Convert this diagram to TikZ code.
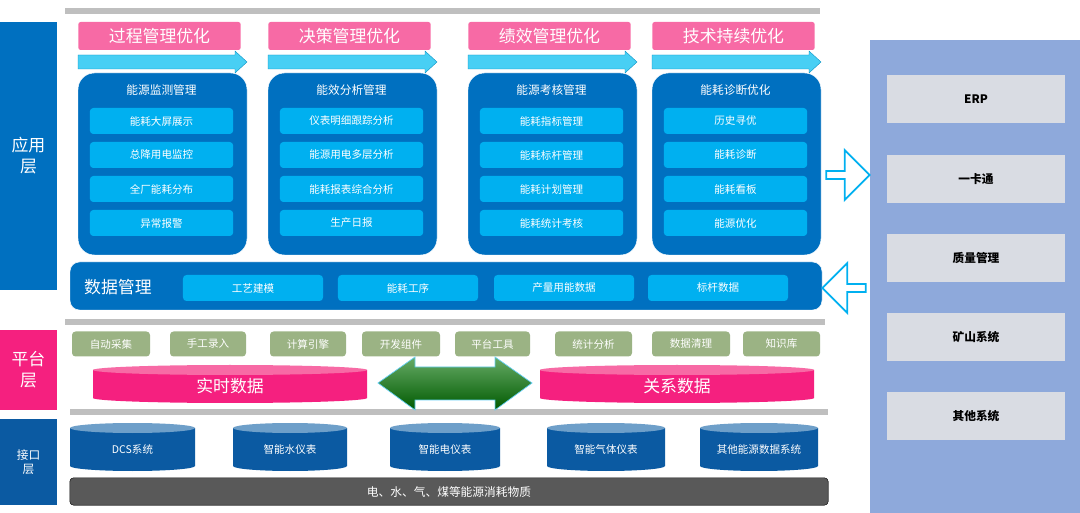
\documentclass[tikz,border=0pt]{standalone}
\usepackage{fontspec}
\setmainfont{Noto Sans CJK SC}
\usetikzlibrary{positioning, shapes.arrows, calc}
\definecolor{appblue}{HTML}{0070C0}
\definecolor{itemblue}{HTML}{00B0F0}
\definecolor{hdrpink}{HTML}{F76AA5}
\definecolor{layerpink}{HTML}{F5207F}
\definecolor{ifblue}{HTML}{0B5AA2}
\definecolor{cylblue}{HTML}{0B5AA2}
\definecolor{cyltop}{HTML}{6E9FC9}
\definecolor{toolgreen}{HTML}{9BB384}
\definecolor{sidepanel}{HTML}{8EA9DB}
\definecolor{sideitem}{HTML}{D9DCE3}
\definecolor{arrowcyan}{HTML}{48CFF4}

% one pixel of the layout = 0.03cm
\newcommand{\pbox}[5]{\path[#1] (#2,#3) rectangle (#4,#5);}
\newcommand{\cylinder}[7]{% style, top colour, x1, x2, y1, y2, text
  \fill[#1] (#3,#5) -- (#3,#6) arc[start angle=180,end angle=360,x radius={(#4-#3)*0.015cm},y radius=0.15cm] -- (#4,#5) -- cycle;
  \fill[#2] ({(#3+#4)/2},#5) ellipse[x radius={(#4-#3)*0.015cm},y radius=0.15cm];
  \node[white, font=\small] at ({(#3+#4)/2},{(#5+#6)/2+2}) {#7};}

\begin{document}
\begin{tikzpicture}[x=0.03cm, y=-0.03cm,
  layer/.style={fill=#1, text=white, font=\Large, align=center},
  header/.style={fill=hdrpink, rounded corners=2pt, text=white, font=\Large, inner sep=0pt},
  module/.style={fill=appblue, draw=white, rounded corners=14pt},
  item/.style={fill=itemblue, rounded corners=3pt, text=white, font=\small, inner sep=0pt},
  tool/.style={fill=toolgreen, rounded corners=3pt, text=white, font=\small, inner sep=0pt},
  sysbox/.style={fill=sideitem, font=\bfseries, inner sep=0pt},
  graybar/.style={fill=black!25},
  hollow/.style={single arrow, draw=itemblue, fill=white, line width=1.5pt, minimum height=1.3cm, minimum width=1.5cm, single arrow head extend=4pt, inner sep=0pt}
]
\useasboundingbox (0,0) rectangle (1080,513);

% layer bars on the left
\node[layer=appblue, minimum width=1.71cm, minimum height=8.04cm] (app) at (28.5,156) {应用\\层};
\node[layer=layerpink, minimum width=1.71cm, minimum height=2.4cm] (plat) at (28.5,370) {平台\\层};
\node[layer=ifblue, minimum width=1.71cm, minimum height=2.55cm, font=\normalsize] (ifl) at (28.5,462) {接口\\层};

% separators
\pbox{graybar}{65}{8}{820}{14}
\pbox{graybar}{65}{319}{825}{325}
\pbox{graybar}{70}{409}{828}{415}

% application modules
\foreach \x/\w/\hd/\ttl/\ia/\ib/\ic/\id [count=\i] in {
  78/169/过程管理优化/能源监测管理/能耗大屏展示/总降用电监控/全厂能耗分布/异常报警,
  268/169/决策管理优化/能效分析管理/仪表明细跟踪分析/能源用电多层分析/能耗报表综合分析/生产日报,
  468/169/绩效管理优化/能源考核管理/能耗指标管理/能耗标杆管理/能耗计划管理/能耗统计考核,
  652/169/技术持续优化/能耗诊断优化/历史寻优/能耗诊断/能耗看板/能源优化}{
  \node[header, minimum width=\w*0.03cm-0.2cm, minimum height=0.84cm] (hd\i) at (\x+\w/2-3,36) {\hd};
  \fill[arrowcyan, draw=itemblue!80!black, line width=0.3pt] (\x,55) -- (\x+\w-12,55) -- (\x+\w-12,51) -- (\x+\w,62) -- (\x+\w-12,73) -- (\x+\w-12,69) -- (\x,69) -- cycle;
  \draw[module] (\x,73) rectangle (\x+\w,255);
  \node[white, font=\normalsize] (mt\i) at (\x+\w/2-1,90) {\ttl};
  \foreach \t [count=\j] in {\ia,\ib,\ic,\id}
    \node[item, minimum width=4.3cm, minimum height=0.78cm] (it\i\j) at (\x+\w/2-1,87+34*\j) {\t};
}

% data management
\draw[fill=appblue, draw=white, rounded corners=8pt] (70,262) rectangle (822,310);
\node[white, font=\Large, anchor=west] (dm) at (80,287) {数据管理};
\foreach \t/\x [count=\i] in {工艺建模/253, 能耗工序/408, 产量用能数据/564, 标杆数据/718}
  \node[item, minimum width=4.2cm, minimum height=0.78cm] (dm\i) at (\x,288) {\t};

% platform tools
\foreach \t/\a/\b [count=\i] in {自动采集/72/150, 手工录入/170/246, 计算引擎/270/346, 开发组件/362/440,
  平台工具/455/530, 统计分析/555/632, 数据清理/652/730, 知识库/743/820}
  \node[tool, minimum width={(\b-\a)*0.03cm}, minimum height=0.75cm] (tl\i) at ({(\a+\b)/2},344) {\t};

% data stores
\cylinder{layerpink}{hdrpink}{93}{367}{370}{398}{\Large 实时数据}
\cylinder{layerpink}{hdrpink}{540}{814}{370}{398}{\Large 关系数据}
\shade[top color=green!45!black!60, bottom color=green!35!black, draw=itemblue!60, line width=0.6pt]
  (378,383) -- (415,357) -- (415,367) -- (495,367) -- (495,357) -- (532,383) -- (495,410) -- (495,400) -- (415,400) -- (415,410) -- cycle;

% interface devices
\foreach \t/\a/\b in {DCS系统/70/195, 智能水仪表/233/347, 智能电仪表/390/500, 智能气体仪表/547/665, 其他能源数据系统/700/818}
  \cylinder{cylblue}{cyltop}{\a}{\b}{428}{466}{\t}
\draw[fill=black!65, draw=black!80, rounded corners=3pt] (70,478) rectangle (828,505);
\node[white] (src) at (449,492) {电、水、气、煤等能源消耗物质};

% external systems
\fill[sidepanel] (870,40) rectangle (1080,513);
\foreach \t/\y [count=\i] in {ERP/99, 一卡通/179, 质量管理/258, 矿山系统/337, 其他系统/416}
  \node[sysbox, minimum width=5.34cm, minimum height=1.44cm] (sys\i) at (976,\y) {\t};
\node[hollow] (toext) at (846,175) {};
\node[hollow, shape border rotate=180] (fromext) at (846,288) {};
\end{tikzpicture}
\end{document}
